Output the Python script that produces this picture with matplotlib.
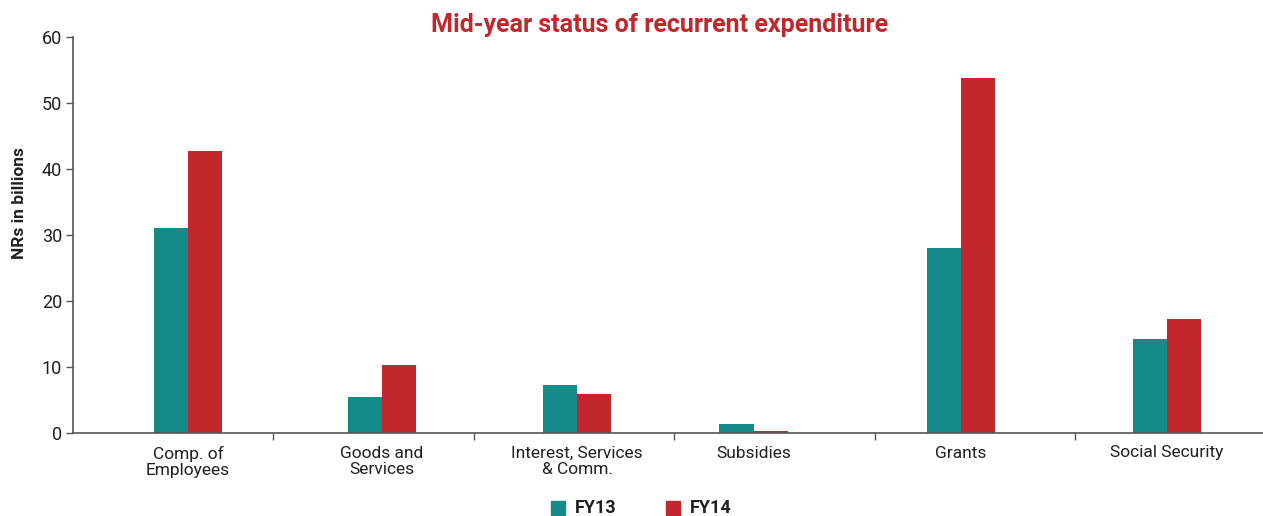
import matplotlib
matplotlib.use("Agg")
import matplotlib.pyplot as plt
from matplotlib.patches import Rectangle

categories = ["Comp. of\nEmployees", "Goods and\nServices", "Interest, Services\n& Comm.",
              "Subsidies", "Grants", "Social Security"]
fy13 = [31.1, 5.4, 7.3, 1.3, 28.1, 14.3]
fy14 = [42.8, 10.35, 5.95, 0.35, 53.8, 17.3]
series_names = ["FY13", "FY14"]
y_ticks = [0, 10, 20, 30, 40, 50, 60]

# group centres on an axis where category boundaries fall on integers
centres = [0.574, 1.542, 2.515, 3.398, 4.431, 5.459]
bar_w = 0.172

teal = "#148b88"
red = "#c1272d"
axis_grey = "#555555"
font = ["Roboto", "DejaVu Sans"]

plt.rcParams["font.family"] = font

fig = plt.figure(figsize=(12.63, 5.16), dpi=100)
ax = fig.add_axes([73 / 1263, 1 - 433 / 516, (1263 - 73) / 1263, (433 - 37) / 516])

ax.bar([c - bar_w / 2 for c in centres], fy13, width=bar_w, color=teal, label=series_names[0])
ax.bar([c + bar_w / 2 for c in centres], fy14, width=bar_w, color=red, label=series_names[1])

ax.set_xlim(0, (1263 - 73) / 200.4)
ax.set_ylim(0, 60)

for side in ("top", "right"):
    ax.spines[side].set_visible(False)
for side in ("left", "bottom"):
    ax.spines[side].set_color(axis_grey)
    ax.spines[side].set_linewidth(1.2)

ax.set_yticks(y_ticks)
ax.tick_params(axis="y", length=5, width=1, color=axis_grey, labelsize=13,
               labelcolor="#231f20", pad=3)

# boundary ticks between groups, labels at the group centres
ax.set_xticks([1, 2, 3, 4, 5])
ax.set_xticklabels([])
ax.tick_params(axis="x", which="major", length=5, width=1, color=axis_grey)
ax.set_xticks(centres, minor=True)
ax.set_xticklabels(categories, minor=True, fontsize=12.5, color="#231f20", linespacing=1.15)
ax.tick_params(axis="x", which="minor", length=0, pad=9)

ax.set_ylabel("NRs in billions", fontsize=12.5, fontweight="bold", color="#231f20")
ax.yaxis.set_label_coords(-46 / 1190, (433 - 203) / 396)

fig.text(660 / 1263, 1 - 25 / 516, "Mid-year status of recurrent expenditure",
         ha="center", va="center", fontsize=18, fontweight="bold", color=red)

# legend drawn below the axis
for x0, col, name in [(551, teal, series_names[0]), (666, red, series_names[1])]:
    fig.patches.append(Rectangle((x0 / 1263, 1 - 515 / 516), 14 / 1263, 14 / 516,
                                 transform=fig.transFigure, color=col))
    fig.text((x0 + 24) / 1263, 1 - 508 / 516, name, ha="left", va="center",
             fontsize=13, fontweight="bold", color="#231f20")

fig.savefig("out.png", dpi=100, facecolor="white")
